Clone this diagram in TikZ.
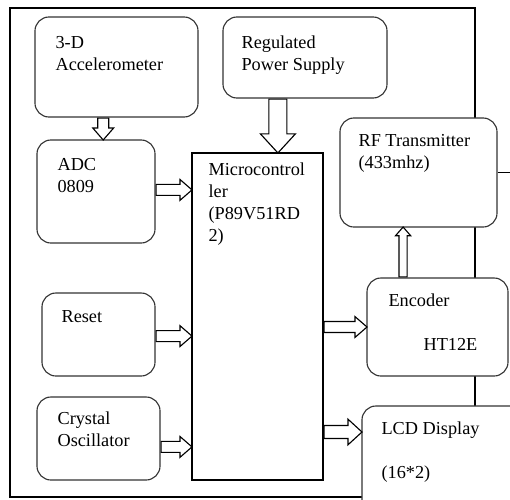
\documentclass[tikz,border=0pt]{standalone}
\usepackage{fontspec}
\setmainfont{Liberation Serif}
\usetikzlibrary{calc,shapes.arrows}
\newcommand{\hollowarrow}[4]{%
    \path let \p1=#3, \p2=#4, \n1={veclen(\x2-\x1,\y2-\y1)}, \n2={atan2(\y2-\y1,\x2-\x1)} in
        node[#1, minimum height=\n1, rotate=\n2] (#2) at (\p1) {};}
\begin{document}
\begin{tikzpicture}[
        x=0.025cm, y=-0.025cm,
        line width=0.8pt,
        font=\fontsize{13}{15.6}\selectfont
    ]
    \tikzset{
        blk/.style = {rectangle, draw=black!80, rounded corners=0.35cm, fill=white, inner sep=0pt},
        mcubox/.style = {rectangle, draw=black, fill=white, inner sep=0pt},
        txt/.style = {anchor=north west, align=left, inner sep=0pt},
        hol/.style = {single arrow, draw=black, fill=white, inner sep=0pt, minimum width=0pt, single arrow head indent=0pt, anchor=tail},
        thinarrow/.style = {hol, inner ysep=3.5pt, single arrow head extend=3.5pt, single arrow tip angle=82},
        slimarrow/.style = {hol, inner ysep=2.5pt, single arrow head extend=2.5pt, single arrow tip angle=82},
        widearrow/.style = {hol, inner ysep=4.2pt, single arrow head extend=4.5pt, single arrow tip angle=85},
        fatarrow/.style = {hol, inner ysep=6pt, single arrow head extend=6pt, single arrow tip angle=85},
    }
    \clip (0,0) rectangle (510,499);
    \draw (10,8) rectangle (475,497);
    % blocks
    \node[blk, minimum width=4.075cm, minimum height=2.5cm] (acc) at (116.5,67) {};
    \node[blk, minimum width=4.1cm, minimum height=2.025cm] (pwr) at (305,57.5) {};
    \node[blk, minimum width=2.95cm, minimum height=2.575cm] (adc) at (96,191.5) {};
    \node[mcubox, minimum width=3.275cm, minimum height=8.175cm] (mcu) at (257.5,316.5) {};
    \node[blk, minimum width=3.925cm, minimum height=2.725cm] (rf) at (418.5,172.5) {};
    \node[blk, minimum width=3.525cm, minimum height=2.45cm] (enc) at (437.5,327) {};
    \node[blk, minimum width=4.2cm, minimum height=2.85cm] (lcd) at (446,463) {};
    \node[blk, minimum width=2.825cm, minimum height=2.075cm] (rst) at (98.5,334.5) {};
    \node[blk, minimum width=3.075cm, minimum height=2.075cm] (xtal) at (98.5,438.5) {};
    % texts
    \node[txt] (acctxt) at (55,36) {3-D\\Accelerometer};
    \node[txt] (pwrtxt) at (241,35) {Regulated\\Power Supply};
    \node[txt] (adctxt) at (57,158) {ADC\\0809};
    \node[txt] (mcutxt) at (208,162) {Microcontrol\\ler\\(P89V51RD\\2)};
    \node[txt] (rftxt) at (358,134) {RF Transmitter\\(433mhz)};
    \node[txt] (enctxt) at (388,293) {Encoder};
    \node[txt] (enctxtb) at (423,338) {HT12E};
    \node[txt] (lcdtxt) at (381,421) {LCD Display};
    \node[txt] (lcdtxtb) at (381,465) {(16*2)};
    \node[txt] (rsttxt) at (61,310) {Reset};
    \node[txt] (xtaltxt) at (57,411) {Crystal\\Oscillator};
    % connectors
    \coordinate (ant) at (515,172.5);
    \draw (rf.east) -- (ant);
    \hollowarrow{thinarrow}{a1}{([xshift=0.18cm]adc.north |- acc.south)}{([xshift=0.18cm]adc.north)}
    \hollowarrow{fatarrow}{a2}{([xshift=0.51cm]mcu.north |- pwr.south)}{([xshift=0.51cm]mcu.north)}
    \hollowarrow{thinarrow}{a3}{([yshift=0.04cm]adc.east)}{([yshift=0.04cm]adc.east -| mcu.west)}
    \hollowarrow{thinarrow}{a4}{([yshift=-0.04cm]rst.east)}{([yshift=-0.04cm]rst.east -| mcu.west)}
    \hollowarrow{thinarrow}{a5}{([yshift=-0.21cm]xtal.east)}{([yshift=-0.21cm]xtal.east -| mcu.west)}
    \hollowarrow{thinarrow}{a6}{(enc.west -| mcu.east)}{(enc.west)}
    \hollowarrow{widearrow}{a7}{([yshift=0.775cm]lcd.west -| mcu.east)}{([yshift=0.775cm]lcd.west)}
    \hollowarrow{slimarrow}{a8}{([xshift=-0.86cm]enc.north)}{([xshift=-0.86cm]enc.north |- rf.south)}
\end{tikzpicture}
\end{document}
